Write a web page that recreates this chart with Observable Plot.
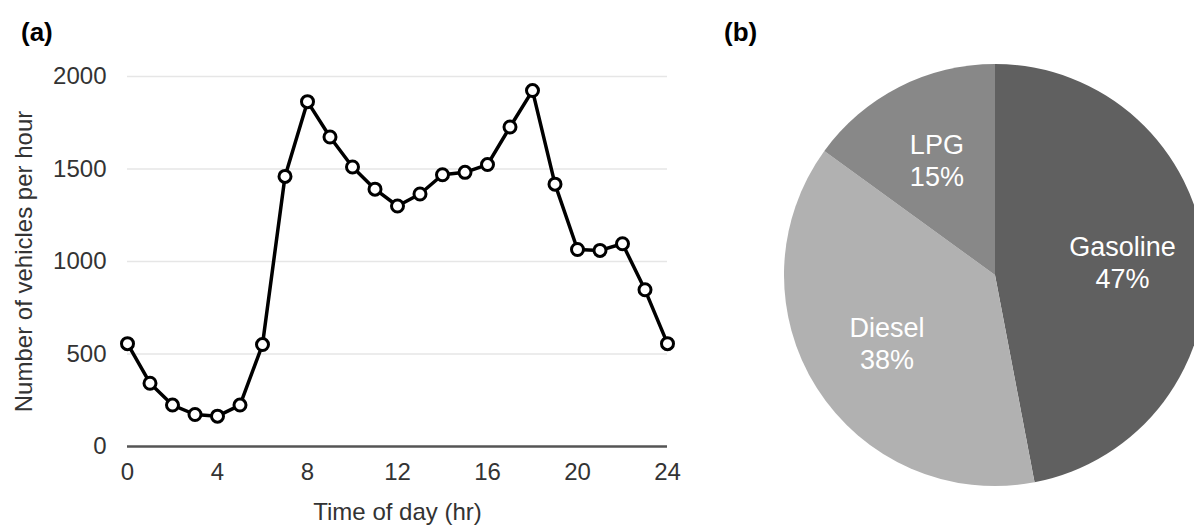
<!DOCTYPE html>
<html>
<head>
<meta charset="utf-8">
<script src="https://cdn.jsdelivr.net/npm/d3@7"></script>
<script src="https://cdn.jsdelivr.net/npm/@observablehq/plot@0.6"></script>
<style>
  html, body { margin: 0; padding: 0; background: #fff; overflow: hidden; }
  #wrap { position: relative; width: 1194px; height: 525px; overflow: hidden; font-family: "Liberation Sans", Arial, Helvetica, sans-serif; }
  #left { position: absolute; left: 0; top: 0; }
  #right { position: absolute; left: 700px; top: 0; }
  .panel { position: absolute; font-weight: bold; font-size: 26px; color: #000; line-height: 1; }
</style>
</head>
<body>
<div id="wrap">
  <div id="left"></div>
  <div id="right"></div>
  <div class="panel" style="left:21px; top:19px;">(a)</div>
  <div class="panel" style="left:724px; top:19px;">(b)</div>
</div>
<script>
// ---- Panel (a): hourly traffic ----
const hours = [0,1,2,3,4,5,6,7,8,9,10,11,12,13,14,15,16,17,18,19,20,21,22,23,24];
const vehicles = [556,342,224,173,164,224,551,1460,1864,1673,1511,1391,1300,1365,1469,1482,1524,1727,1924,1418,1065,1060,1096,847,556];
const xTicks = [0,4,8,12,16,20,24];
const yTicks = [0,500,1000,1500,2000];

// ---- Panel (b): fuel shares ----
const fuels = ["Gasoline","Diesel","LPG"];
const shares = [47,38,15];
const fuelColors = ["#606060","#b1b1b1","#888888"];

const traffic = hours.map((h, i) => ({hour: h, v: vehicles[i]}));

const left = Plot.plot({
  width: 700,
  height: 525,
  marginLeft: 127,
  marginRight: 33,
  marginTop: 76,
  marginBottom: 79,
  style: {fontFamily: "Liberation Sans, Arial, Helvetica, sans-serif", fontSize: "24px", color: "#333", background: "white"},
  x: {domain: [0, 24], ticks: xTicks, tickFormat: d => String(d), tickSize: 0, tickPadding: 16,
      label: "Time of day (hr)", labelAnchor: "center", labelOffset: 73, labelArrow: "none"},
  y: {domain: [0, 2000], ticks: yTicks, tickFormat: d => String(d), tickSize: 0, tickPadding: 21,
      label: "Number of vehicles per hour", labelAnchor: "center", labelOffset: 113, labelArrow: "none"},
  marks: [
    Plot.ruleY(yTicks.filter(d => d > 0), {stroke: "#e6e6e6", strokeWidth: 1.5}),
    Plot.ruleY([0], {stroke: "#555", strokeWidth: 2.5}),
    Plot.line(traffic, {x: "hour", y: "v", stroke: "#000", strokeWidth: 3.5}),
    Plot.dot(traffic, {x: "hour", y: "v", r: 6, fill: "white", stroke: "#000", strokeWidth: 3})
  ]
});
document.getElementById("left").appendChild(left);

const pieData = fuels.map((f, i) => ({fuel: f, share: shares[i], color: fuelColors[i]}));

function pieMark(index, scales, values, dimensions) {
  const cx = 295, cy = 275, r = 211, labelR = 128;
  const arcs = d3.pie().sort(null).value(d => d.share)(pieData);
  const arc = d3.arc().innerRadius(0).outerRadius(r);
  const labelArc = d3.arc().innerRadius(labelR).outerRadius(labelR);
  const g = d3.create("svg:g").attr("transform", `translate(${cx},${cy})`);
  g.selectAll("path").data(arcs).join("path")
    .attr("d", arc)
    .attr("fill", d => d.data.color);
  const t = g.selectAll("text").data(arcs).join("text")
    .attr("transform", d => `translate(${labelArc.centroid(d)})`)
    .attr("text-anchor", "middle")
    .attr("fill", "white")
    .attr("font-size", 27)
    .attr("font-family", "Liberation Sans, Arial, Helvetica, sans-serif");
  t.append("tspan").attr("x", 0).attr("dy", -6.5).text(d => d.data.fuel);
  t.append("tspan").attr("x", 0).attr("dy", 32).text(d => d.data.share + "%");
  return g.node();
}

const right = Plot.plot({
  width: 494,
  height: 525,
  margin: 0,
  style: {background: "white", overflow: "hidden"},
  marks: [pieMark]
});
document.getElementById("right").appendChild(right);
</script>
</body>
</html>
